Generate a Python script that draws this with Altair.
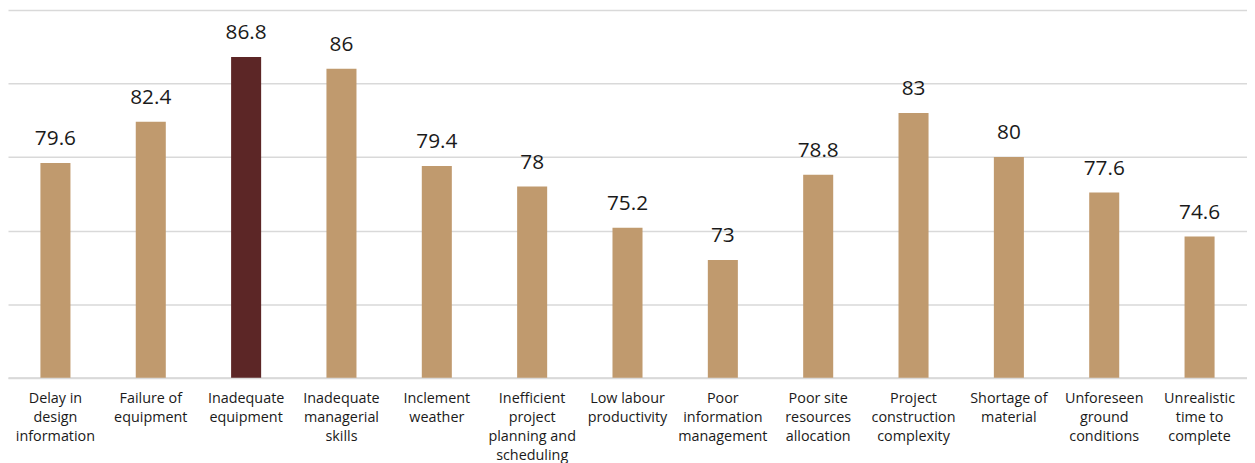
import altair as alt
import pandas as pd

categories = [
    "Delay in|design|information",
    "Failure of|equipment",
    "Inadequate|equipment",
    "Inadequate|managerial|skills",
    "Inclement|weather",
    "Inefficient|project|planning and|scheduling",
    "Low labour|productivity",
    "Poor|information|management",
    "Poor site|resources|allocation",
    "Project|construction|complexity",
    "Shortage of|material",
    "Unforeseen|ground|conditions",
    "Unrealistic|time to|complete",
]
values = [79.6, 82.4, 86.8, 86, 79.4, 78, 75.2, 73, 78.8, 83, 80, 77.6, 74.6]
highlight = [False, False, True, False, False, False, False, False, False, False, False, False, False]
labels = ["79.6", "82.4", "86.8", "86", "79.4", "78", "75.2", "73", "78.8", "83", "80", "77.6", "74.6"]
baseline_value = 65

df = pd.DataFrame({"cat": categories, "val": values, "hl": highlight, "lbl": labels})

x = alt.X(
    "cat:N",
    sort=categories,
    scale=alt.Scale(paddingInner=0.685, paddingOuter=0.34),
    axis=alt.Axis(
        title=None,
        labelAngle=0,
        labelExpr="split(datum.value, '|')",
        labelFontSize=14.5,
        labelFont="Open Sans",
        labelColor="#1a1a1a",
        labelLineHeight=19,
        labelPadding=14,
        labelLimit=200,
        ticks=False,
        domain=True,
        domainColor="#d9d9d9",
        domainWidth=2,
        grid=False,
    ),
)
y = alt.Y(
    "val:Q",
    scale=alt.Scale(domain=[65, 90], nice=False, zero=False),
    axis=alt.Axis(
        title=None,
        labels=False,
        ticks=False,
        domain=False,
        grid=True,
        gridColor="#d9d9d9",
        gridWidth=1.5,
        values=[65, 70, 75, 80, 85, 90],
    ),
)

bars = alt.Chart(df).mark_bar().encode(
    x=x,
    y=y,
    y2=alt.datum(baseline_value),
    color=alt.Color(
        "hl:N",
        scale=alt.Scale(domain=[False, True], range=["#C09A6E", "#5C2626"]),
        legend=None,
    ),
)

text = alt.Chart(df).mark_text(
    baseline="alphabetic",
    dy=-18,
    fontSize=21,
    font="Open Sans",
    color="#1a1a1a",
).encode(x=x, y=y, text="lbl:N")

chart = (bars + text).properties(width=1250, height=371, padding=0).configure_view(stroke=None)

chart.save("out.html", embed_options={"renderer": "svg", "actions": False})
